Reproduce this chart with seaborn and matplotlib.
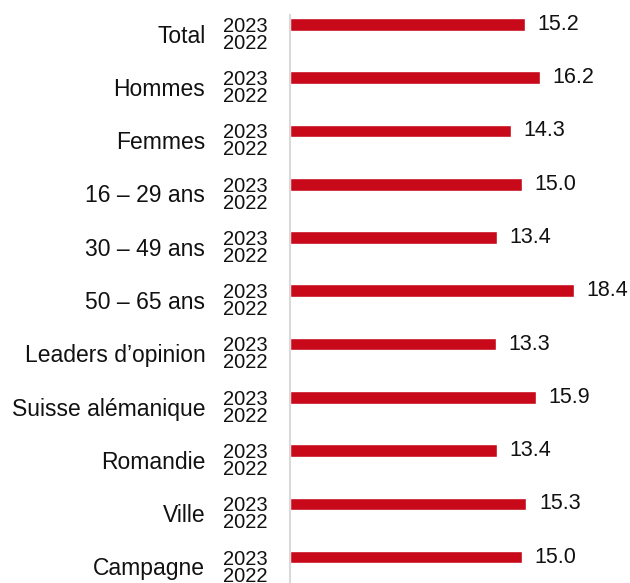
import matplotlib
matplotlib.use("Agg")
import matplotlib.pyplot as plt
import matplotlib.transforms as mtransforms
import seaborn as sns
import pandas as pd

# categories and values (only 2023 is shown in the chart, 2022 is empty)
categories = ["Total", "Hommes", "Femmes", "16 – 29 ans", "30 – 49 ans", "50 – 65 ans",
              "Leaders d’opinion", "Suisse alémanique", "Romandie", "Ville", "Campagne"]
years = ["2023", "2022"]
values_2023 = [15.2, 16.2, 14.3, 15.0, 13.4, 18.4, 13.3, 15.9, 13.4, 15.3, 15.0]
values_2022 = [0, 0, 0, 0, 0, 0, 0, 0, 0, 0, 0]

df = pd.DataFrame({
    "categorie": categories * 2,
    "annee": ["2023"] * len(categories) + ["2022"] * len(categories),
    "valeur": values_2023 + values_2022,
})

sns.set_theme(style="white")
plt.rcParams["font.family"] = ["Liberation Sans", "DejaVu Sans"]

fig = plt.figure(figsize=(6.3, 5.83), dpi=100)
ax = fig.add_axes([290 / 630, 0, 340 / 630, 568 / 583])

red = "#C8091A"
sns.barplot(data=df, y="categorie", x="valeur", hue="annee", hue_order=years,
            order=categories, palette={"2023": red, "2022": red}, saturation=1,
            width=0.7, gap=0.32, legend=False, ax=ax)

# value labels for the 2023 bars
ax.bar_label(ax.containers[0], labels=[f"{v:.1f}" for v in values_2023],
             padding=9, fontsize=15.5, color="#111111")

ax.set_xlim(0, 22)
ax.set_ylim(len(categories) - 0.69, -0.35)
ax.set_xlabel("")
ax.set_ylabel("")
ax.set_xticks([])
ax.set_yticks(range(len(categories)))
ax.set_yticklabels(categories, fontsize=16.5, color="#111111")
ax.tick_params(axis="y", length=0, pad=61)

# year labels next to each category
trans = mtransforms.blended_transform_factory(fig.transFigure, ax.transData)
for i in range(len(categories)):
    ax.text(268 / 630, i - 0.14, "2023", transform=trans, ha="right", va="center",
            fontsize=14.5, color="#111111")
    ax.text(268 / 630, i + 0.18, "2022", transform=trans, ha="right", va="center",
            fontsize=14.5, color="#111111")

for side in ["top", "right", "bottom"]:
    ax.spines[side].set_visible(False)
ax.spines["left"].set_color("#D9D9D9")
ax.spines["left"].set_linewidth(1.5)

fig.savefig("out.png", dpi=100)
